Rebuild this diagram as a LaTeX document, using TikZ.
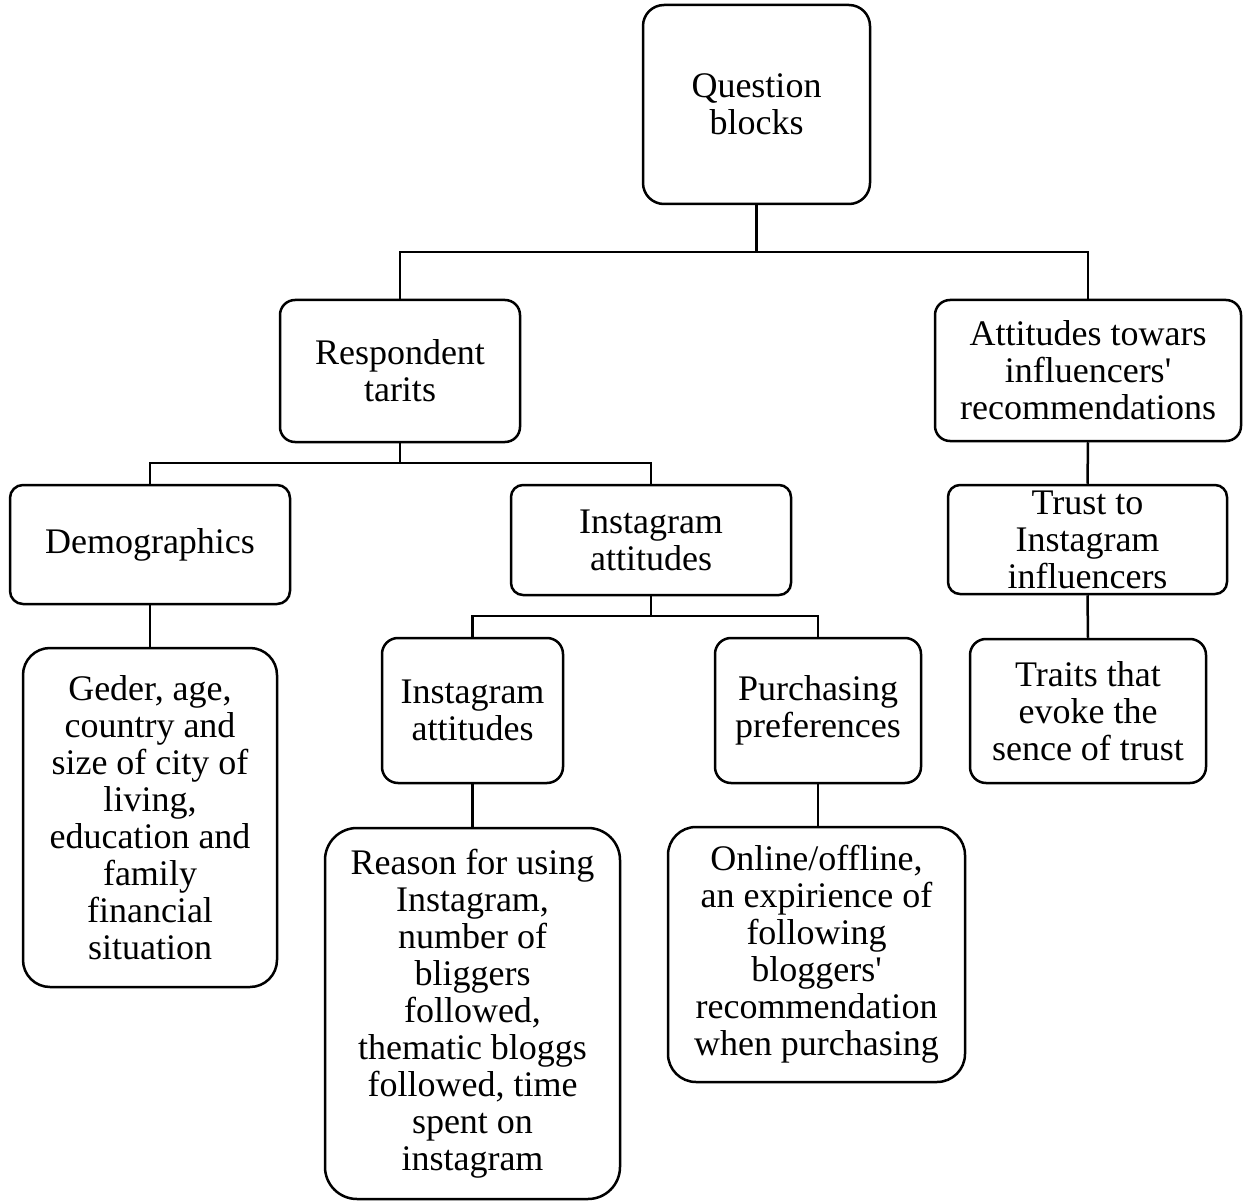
\documentclass[tikz,border=0pt]{standalone}
\usepackage{fontspec}
\setmainfont{Liberation Serif}[Ligatures=TeXOff]
\newcommand{\apos}{'}
\tikzset{
  box/.style={draw, line width=2.5pt, inner sep=0pt, align=center,
    font=\fontsize{36}{37}\selectfont},
  conn/.style={line width=2.5pt},
}
\begin{document}
\begin{tikzpicture}[x=1pt,y=-1pt]
\useasboundingbox (0,0) rectangle (1251,1201);
% boxes
\node[box, minimum width=227pt, minimum height=199pt, rounded corners=21pt] (Q) at (756.5,104.5) {Question\\blocks};
\node[box, minimum width=240pt, minimum height=142pt, rounded corners=15pt] (R) at (400,371) {Respondent\\tarits};
\node[box, minimum width=306pt, minimum height=141pt, rounded corners=15pt] (AT) at (1088,370.5) {Attitudes towars\\influencers\apos\\recommendations};
\node[box, minimum width=280pt, minimum height=119pt, rounded corners=13pt] (DM) at (150,544.5) {Demographics};
\node[box, minimum width=280pt, minimum height=110pt, rounded corners=12pt] (IA) at (651,540) {Instagram\\attitudes};
\node[box, minimum width=279pt, minimum height=109pt, rounded corners=12pt] (TR) at (1087.5,539.5) {Trust to\\Instagram\\influencers};
\node[box, minimum width=181pt, minimum height=145pt, rounded corners=16pt] (IB) at (472.5,710.5) {Instagram\\attitudes};
\node[box, minimum width=206pt, minimum height=145pt, rounded corners=16pt] (PP) at (818,710.5) {Purchasing\\preferences};
\node[box, minimum width=236pt, minimum height=144pt, rounded corners=16pt] (TS) at (1088,711) {Traits that\\evoke the\\sence of trust};
\node[box, minimum width=254pt, minimum height=339pt, rounded corners=27pt] (GE) at (150,817.5) {Geder, age,\\country and\\size of city of\\living,\\education and\\family\\financial\\situation};
\node[box, minimum width=295pt, minimum height=371pt, rounded corners=32pt] (RE) at (472.5,1013.5) {Reason for using\\Instagram,\\number of\\bliggers\\followed,\\thematic bloggs\\followed, time\\spent on\\instagram};
\node[box, minimum width=297pt, minimum height=255pt, rounded corners=28pt] (ON) at (816.5,954.5) {Online/offline,\\an expirience of\\following\\bloggers\apos\\recommendation\\when purchasing};
% junctions
\coordinate (j1) at (756.5,252);
\coordinate (j2) at (400,463);
\coordinate (j3) at (651,616);
% connectors
\draw[conn] (Q.south) -- (j1);
\draw[conn] (j1) -| (R.north);
\draw[conn] (j1) -| (AT.north);
\draw[conn] (R.south) -- (j2);
\draw[conn] (j2) -| (DM.north);
\draw[conn] (j2) -| (IA.north);
\draw[conn] (IA.south) -- (j3);
\draw[conn] (j3) -| (IB.north);
\draw[conn] (j3) -| (PP.north);
\draw[conn] (DM.south) -- (GE.north);
\draw[conn] (IB.south) -- (RE.north);
\draw[conn] (PP.south) -- (PP.south |- ON.north);
\draw[conn] (AT.south) -- (TR.north);
\draw[conn] (TR.south) -- (TS.north);
\end{tikzpicture}
\end{document}
